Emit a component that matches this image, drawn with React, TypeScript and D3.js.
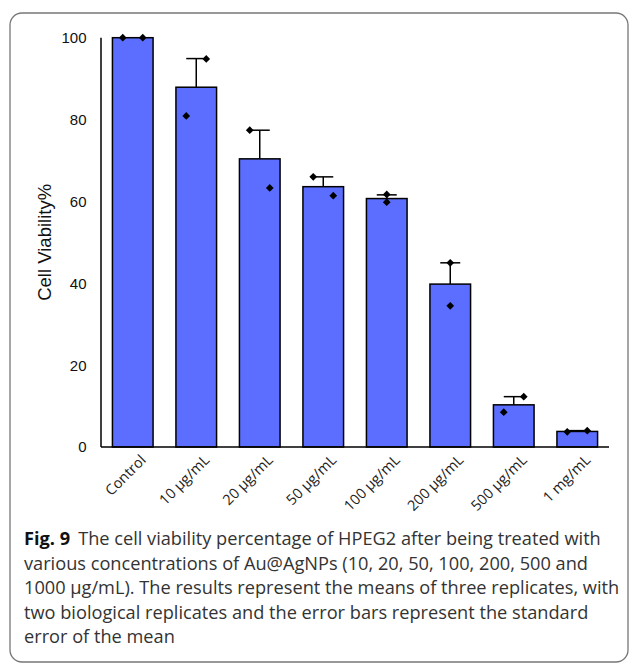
import React from 'react';
import * as d3 from 'd3';

const categories = ['Control', '10 μg/mL', '20 μg/mL', '50 μg/mL', '100 μg/mL', '200 μg/mL', '500 μg/mL', '1 mg/mL'];
const means = [100, 87.9, 70.4, 63.6, 60.7, 39.8, 10.3, 3.8];
const sem = [0, 7.0, 7.0, 2.4, 0.9, 5.2, 2.0, 0.2];
const repA = [100, 80.9, 77.4, 66.0, 61.7, 45.0, 8.5, 3.7];
const repB = [100, 94.8, 63.3, 61.4, 59.8, 34.5, 12.3, 4.0];
// 1 = replicates drawn side by side, 0 = stacked on the bar centre
const spread = [1, 1, 1, 1, 0, 0, 1, 1];
const yTicks = [0, 20, 40, 60, 80, 100];

const captionLines = [
  'various concentrations of Au@AgNPs (10, 20, 50, 100, 200, 500 and',
  '1000 μg/mL). The results represent the means of three replicates, with',
  'two biological replicates and the error bars represent the standard',
  'error of the mean',
];

const W = 629;
const H = 664;
const M = { top: 37.7, left: 101, right: 20, bottom: 217 };
const BAR = '#5b6eff';
const AXIS_FONT = '"Liberation Sans", Arial, sans-serif';
const CAP_FONT = '"Open Sans", "Noto Sans", sans-serif';

export default function App() {
  const x = d3.scaleBand<string>()
    .domain(categories)
    .range([M.left, W - M.right])
    .paddingInner(0.36)
    .paddingOuter(0.18);
  const y = d3.scaleLinear().domain([0, 100]).range([H - M.bottom, M.top]);
  const diamond = d3.symbol().type(d3.symbolSquare).size(30)();
  const bw = x.bandwidth();

  return (
    <svg width={W} height={H} style={{ position: 'absolute', left: 0, top: 0, background: '#fff' }}>
      <rect x={10} y={13} width={618} height={649} rx={12} fill="none" stroke="#777" strokeWidth={1.3} />

      {categories.map((c, i) => {
        const x0 = x(c)!;
        const cx = x0 + bw / 2;
        const top = y(means[i]);
        const capY = y(means[i] + sem[i]);
        const d = spread[i] * 10;
        return (
          <g key={c}>
            <rect x={x0} y={top} width={bw} height={y(0) - top} fill={BAR} stroke="#000" strokeWidth={1.5} />
            {sem[i] > 0 && (
              <g stroke="#000" strokeWidth={1.5}>
                <line x1={cx} x2={cx} y1={top} y2={capY} />
                <line x1={cx - 10} x2={cx + 10} y1={capY} y2={capY} />
              </g>
            )}
            <path d={diamond} transform={`translate(${cx - d},${y(repA[i])}) rotate(45)`} fill="#000" />
            <path d={diamond} transform={`translate(${cx + d},${y(repB[i])}) rotate(45)`} fill="#000" />
            <text
              transform={`translate(${cx + 14},${y(0) + 14}) rotate(-45)`}
              textAnchor="end"
              fontFamily={CAP_FONT}
              fontSize={14.5}
              fill="#222"
            >
              {c}
            </text>
          </g>
        );
      })}

      <line x1={M.left} x2={M.left} y1={M.top} y2={y(0)} stroke="#000" strokeWidth={1.5} />
      <line x1={M.left} x2={W - M.right} y1={y(0)} y2={y(0)} stroke="#000" strokeWidth={1.5} />

      {yTicks.map(t => (
        <text key={t} x={86.5} y={y(t)} dy="0.36em" textAnchor="end" fontFamily={AXIS_FONT} fontSize={15} fill="#111">
          {t}
        </text>
      ))}
      <text
        transform={`translate(51,${(y(0) + M.top) / 2}) rotate(-90)`}
        textAnchor="middle"
        fontFamily={AXIS_FONT}
        fontSize={18.5}
        fill="#111"
      >
        Cell Viability%
      </text>

      <text x={24} y={545} fontFamily={CAP_FONT} fontSize={18.2} fill="#333">
        <tspan fontWeight="bold" fill="#111">Fig. 9</tspan>
        <tspan dx={8}>The cell viability percentage of HPEG2 after being treated with</tspan>
      </text>
      {captionLines.map((l, i) => (
        <text key={i} x={24} y={569.5 + i * 24.5} fontFamily={CAP_FONT} fontSize={18.2} fill="#333">
          {l}
        </text>
      ))}
    </svg>
  );
}
